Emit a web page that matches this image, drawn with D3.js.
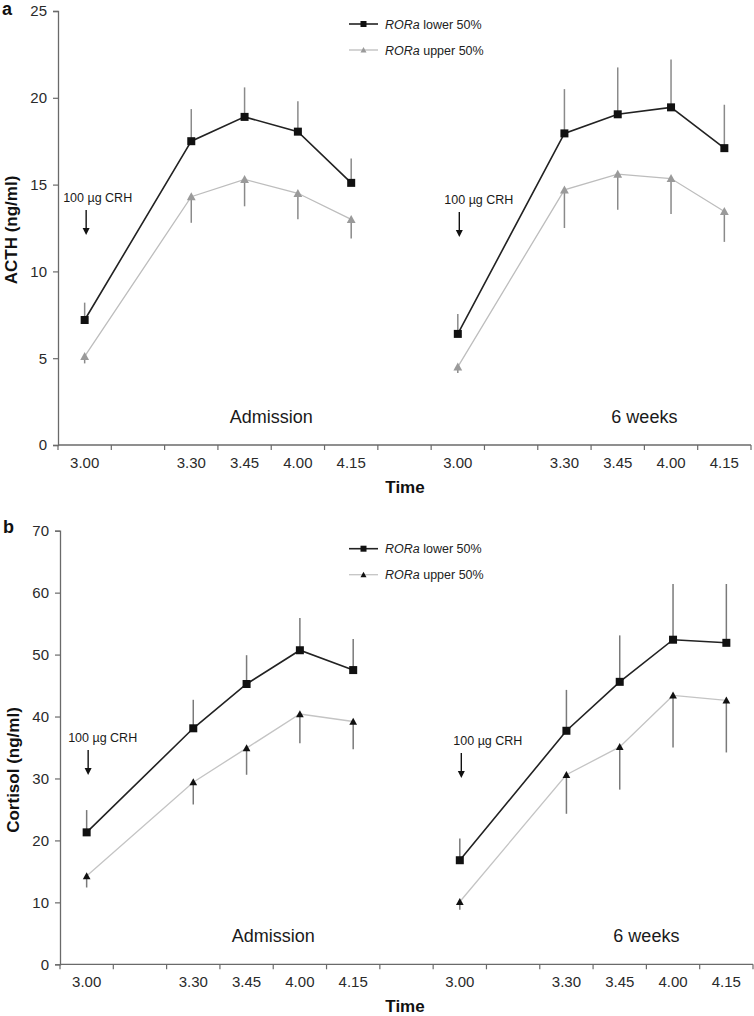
<!DOCTYPE html>
<html><head><meta charset="utf-8">
<script src="https://cdn.jsdelivr.net/npm/d3@7"></script>
<style>
body{margin:0;background:#fff;}
text{font-family:"Liberation Sans",Arial,sans-serif;}
</style></head>
<body>
<svg id="chart" width="754" height="1016"></svg>
<script>
// ---- data ----
const categories = ["3.00","","3.30","3.45","4.00","4.15","","3.00","","3.30","3.45","4.00","4.15"];
const admissionSlots = [0,2,3,4,5];
const weeksSlots = [7,9,10,11,12];
const groupLabels = ["Admission","6 weeks"];
const seriesNames = ["lower 50%","upper 50%"];

const acthTicks = [0,5,10,15,20,25];
const acthLowerAdm = [7.2,17.5,18.9,18.05,15.1];
const acthLowerAdmErr = [1.0,1.85,1.7,1.75,1.4];
const acthUpperAdm = [5.1,14.3,15.3,14.5,13.0];
const acthUpperAdmErr = [0.4,1.5,1.55,1.5,1.1];
const acthLower6w = [6.4,17.95,19.05,19.45,17.1];
const acthLower6wErr = [1.15,2.55,2.7,2.75,2.5];
const acthUpper6w = [4.5,14.7,15.6,15.35,13.45];
const acthUpper6wErr = [0.35,2.2,2.05,2.05,1.75];

const cortTicks = [0,10,20,30,40,50,60,70];
const cortLowerAdm = [21.3,38.1,45.25,50.7,47.5];
const cortLowerAdmErr = [3.6,4.6,4.65,5.2,5.0];
const cortUpperAdm = [14.25,29.4,34.9,40.4,39.2];
const cortUpperAdmErr = [1.85,3.6,4.3,4.7,4.5];
const cortLower6w = [16.8,37.7,45.6,52.4,51.9];
const cortLower6wErr = [3.5,6.6,7.5,9.0,9.5];
const cortUpper6w = [10.1,30.6,35.1,43.4,42.6];
const cortUpper6wErr = [1.3,6.3,6.9,8.4,8.4];

// ---- drawing ----
const svg = d3.select("#chart");

function panel(cfg){
  const g = svg.append("g");
  const x = d3.scaleBand().domain(d3.range(categories.length)).range([cfg.left, cfg.right]).padding(0);
  const y = d3.scaleLinear().domain([0, d3.max(cfg.ticks)]).range([cfg.bottom, cfg.top]);
  const bw = x.bandwidth();
  const axisCol = "#6a6a6a";

  // y axis
  const ya = d3.axisLeft(y).tickValues(cfg.ticks).tickSize(5).tickPadding(6).tickFormat(d3.format("d"));
  const yg = g.append("g").attr("transform",`translate(${cfg.left},0)`).call(ya);
  yg.select(".domain").attr("stroke",axisCol).attr("stroke-width",1.3);
  yg.selectAll(".tick line").attr("stroke",axisCol).attr("stroke-width",1.2);
  yg.selectAll(".tick text").attr("font-size",15).attr("fill","#2a2a2a").attr("font-family","Liberation Sans, Arial");

  // x axis (category axis with ticks between categories)
  g.append("line").attr("x1",cfg.left).attr("x2",cfg.right).attr("y1",cfg.bottom).attr("y2",cfg.bottom)
    .attr("stroke",axisCol).attr("stroke-width",1.3);
  const bounds = d3.range(categories.length).map(i=>x(i)).concat([x(categories.length-1)+bw]);
  g.selectAll(".xt").data(bounds).join("line").attr("x1",d=>d).attr("x2",d=>d)
    .attr("y1",cfg.bottom).attr("y2",cfg.bottom+5).attr("stroke",axisCol).attr("stroke-width",1.2);
  g.selectAll(".xl").data(categories.map((c,i)=>({c,i})).filter(d=>d.c!==""))
    .join("text").attr("x",d=>x(d.i)+bw/2).attr("y",cfg.bottom+23)
    .attr("text-anchor","middle").attr("font-size",15).attr("fill","#2a2a2a").text(d=>d.c);

  // axis titles
  g.append("text").attr("x",405).attr("y",cfg.bottom+48).attr("text-anchor","middle")
    .attr("font-size",17).attr("font-weight","bold").attr("fill","#111").text("Time");
  g.append("text").attr("transform",`translate(${cfg.left-41},${cfg.titleY}) rotate(-90)`)
    .attr("text-anchor","middle").attr("font-size",17).attr("font-weight","bold").attr("fill","#111").text(cfg.yTitle);
  g.append("text").attr("x",cfg.letterX).attr("y",cfg.letterY).attr("font-size",18).attr("font-weight","bold")
    .attr("fill","#111").text(cfg.letter);

  // group labels
  [admissionSlots, weeksSlots].forEach((slots,k)=>{
    const cx = (x(slots[1])+x(slots[4])+bw)/2;
    g.append("text").attr("x",cx).attr("y",cfg.bottom-22).attr("text-anchor","middle")
      .attr("font-size",18).attr("fill","#1a1a1a").text(groupLabels[k]);
  });

  // CRH arrows
  [admissionSlots, weeksSlots].forEach((slots,k)=>{
    const ax = x(slots[0])+bw/2+1.5;
    const top = cfg.arrowTop[k];
    g.append("text").attr("x",ax+cfg.arrowTextDx[k]).attr("y",top-8).attr("font-size",12.5).attr("fill","#1a1a1a").text("100 µg CRH");
    g.append("line").attr("x1",ax).attr("x2",ax).attr("y1",top).attr("y2",top+19).attr("stroke","#111").attr("stroke-width",1.4);
    g.append("path").attr("d",`M${ax-3.5},${top+18}L${ax+3.5},${top+18}L${ax},${top+25}Z`).attr("fill","#111");
  });

  const line = d3.line().x(d=>x(d.s)+bw/2).y(d=>y(d.v));
  const sets = [
    {slots:admissionSlots, lo:cfg.loAdm, loE:cfg.loAdmE, up:cfg.upAdm, upE:cfg.upAdmE},
    {slots:weeksSlots, lo:cfg.lo6w, loE:cfg.lo6wE, up:cfg.up6w, upE:cfg.up6wE}
  ];
  sets.forEach(st=>{
    const lo = st.slots.map((s,i)=>({s, v:st.lo[i], e:st.loE[i]}));
    const up = st.slots.map((s,i)=>({s, v:st.up[i], e:st.upE[i]}));
    // error bars
    g.selectAll(null).data(lo).join("line").attr("x1",d=>x(d.s)+bw/2).attr("x2",d=>x(d.s)+bw/2)
      .attr("y1",d=>y(d.v)).attr("y2",d=>y(d.v+d.e)).attr("stroke",cfg.errCol).attr("stroke-width",1.5);
    g.selectAll(null).data(up).join("line").attr("x1",d=>x(d.s)+bw/2).attr("x2",d=>x(d.s)+bw/2)
      .attr("y1",d=>y(d.v)).attr("y2",d=>y(d.v-d.e)).attr("stroke",cfg.errCol).attr("stroke-width",1.5);
    // lines
    g.append("path").datum(up).attr("d",line).attr("fill","none").attr("stroke",cfg.upLine).attr("stroke-width",1.3);
    g.append("path").datum(lo).attr("d",line).attr("fill","none").attr("stroke","#222").attr("stroke-width",1.6);
    // markers
    g.selectAll(null).data(lo).join("rect").attr("x",d=>x(d.s)+bw/2-4).attr("y",d=>y(d.v)-4)
      .attr("width",8).attr("height",8).attr("fill","#111");
    g.selectAll(null).data(up).join("path")
      .attr("d",d=>{const cx=x(d.s)+bw/2, cy=y(d.v), h=cfg.triS; return `M${cx-h*0.55},${cy+h*0.45}L${cx+h*0.55},${cy+h*0.45}L${cx},${cy-h*0.55}Z`;})
      .attr("fill",cfg.triCol);
  });

  // legend
  const lx1 = 349, lx2 = 378, lyy = [cfg.top+cfg.legDy, cfg.top+cfg.legDy+26];
  g.append("line").attr("x1",lx1).attr("x2",lx2).attr("y1",lyy[0]).attr("y2",lyy[0]).attr("stroke","#222").attr("stroke-width",1.6);
  g.append("rect").attr("x",(lx1+lx2)/2-3).attr("y",lyy[0]-3).attr("width",6).attr("height",6).attr("fill","#111");
  g.append("line").attr("x1",lx1).attr("x2",lx2).attr("y1",lyy[1]).attr("y2",lyy[1]).attr("stroke",cfg.upLine).attr("stroke-width",1.3);
  const c2=(lx1+lx2)/2;
  g.append("path").attr("d",`M${c2-3},${lyy[1]+2.5}L${c2+3},${lyy[1]+2.5}L${c2},${lyy[1]-3}Z`).attr("fill",cfg.triCol);
  seriesNames.forEach((nm,i)=>{
    const t = g.append("text").attr("x",385).attr("y",lyy[i]+4.5).attr("font-size",12.5).attr("fill","#222");
    t.append("tspan").attr("font-style","italic").text("RORa");
    t.append("tspan").text(" "+nm);
  });
}

panel({left:58,right:751,top:11,bottom:445,ticks:acthTicks,yTitle:"ACTH (ng/ml)",titleY:230,
  letter:"a",letterX:2,letterY:15,legDy:13,
  arrowTop:[210,212], arrowTextDx:[-23,-15], errCol:"#8a8a8a", upLine:"#bdbdbd", triCol:"#9a9a9a", triS:8,
  loAdm:acthLowerAdm, loAdmE:acthLowerAdmErr, upAdm:acthUpperAdm, upAdmE:acthUpperAdmErr,
  lo6w:acthLower6w, lo6wE:acthLower6wErr, up6w:acthUpper6w, up6wE:acthUpper6wErr});

panel({left:60,right:753,top:530.7,bottom:964.3,ticks:cortTicks,yTitle:"Cortisol (ng/ml)",titleY:770,
  letter:"b",letterX:3,letterY:533,legDy:18,
  arrowTop:[750,753], arrowTextDx:[-20,-8], errCol:"#7a7a7a", upLine:"#c4c4c4", triCol:"#111", triS:7,
  loAdm:cortLowerAdm, loAdmE:cortLowerAdmErr, upAdm:cortUpperAdm, upAdmE:cortUpperAdmErr,
  lo6w:cortLower6w, lo6wE:cortLower6wErr, up6w:cortUpper6w, up6wE:cortUpper6wErr});
</script>
</body></html>
